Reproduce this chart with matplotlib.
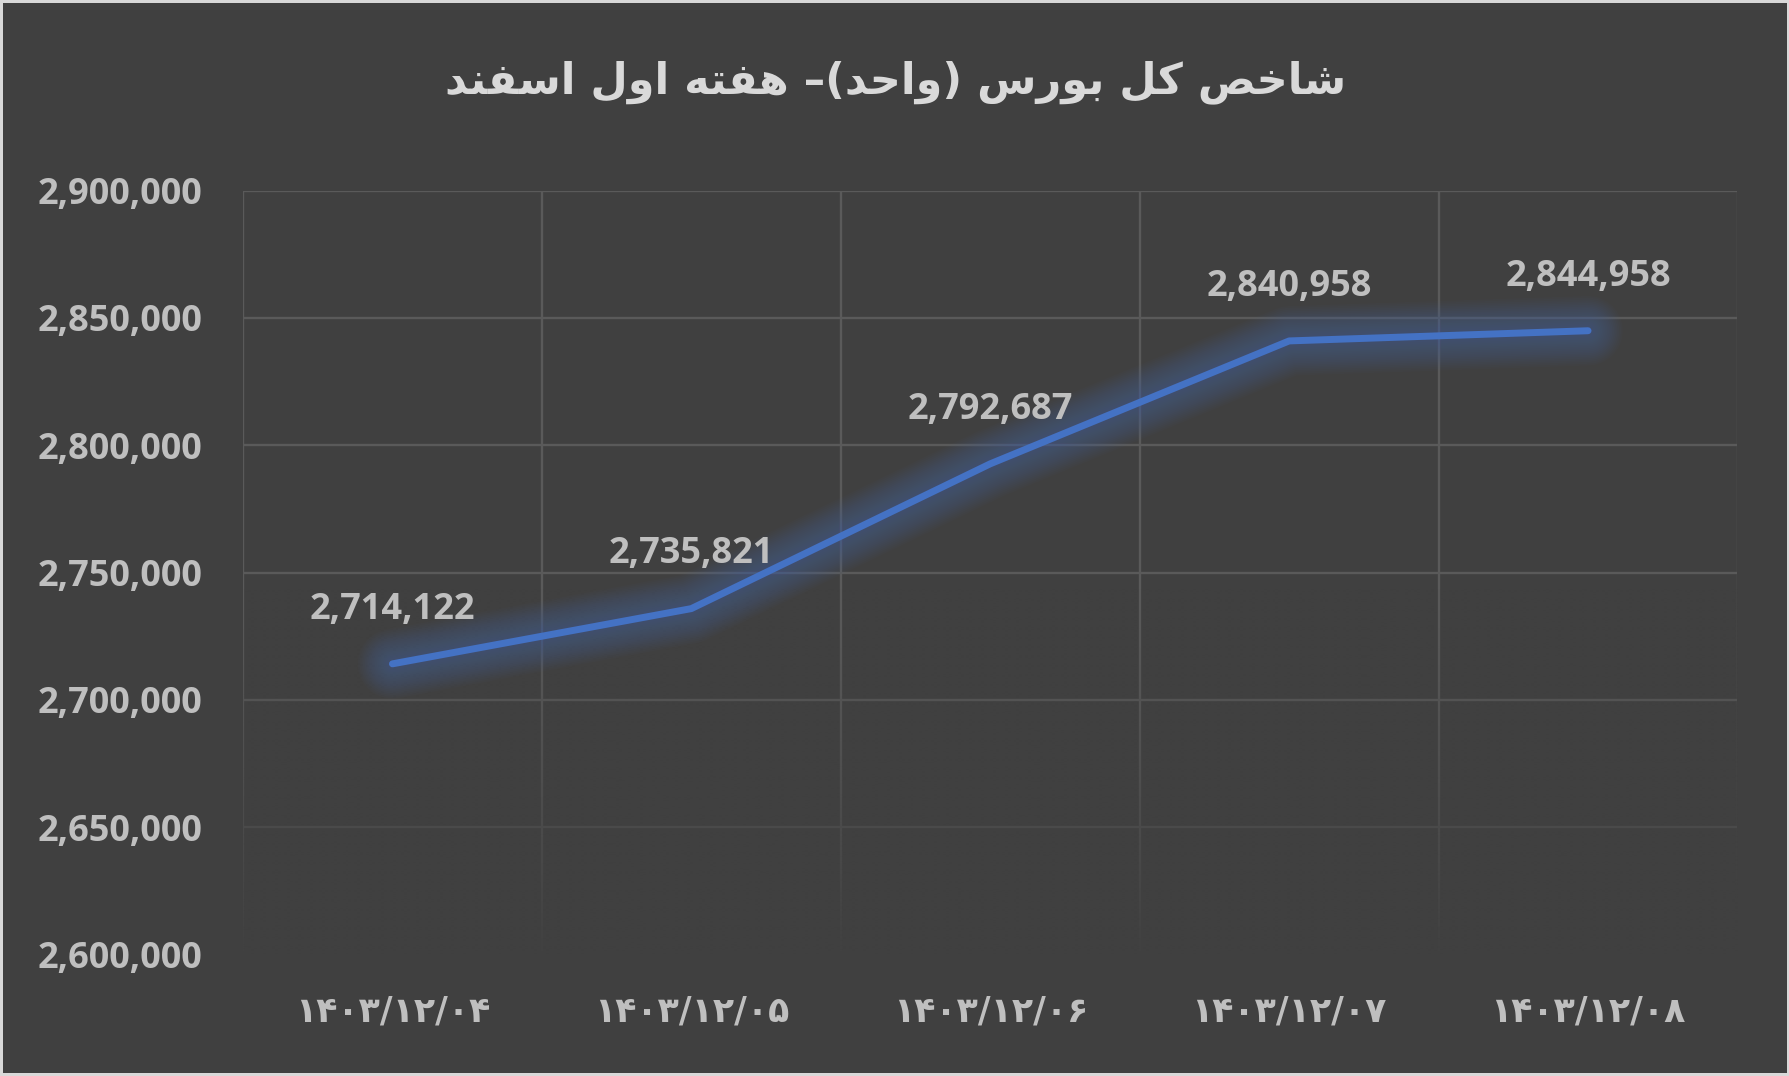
import numpy as np
import matplotlib
matplotlib.use("Agg")
import matplotlib.pyplot as plt
from matplotlib.patches import Rectangle

# ---------------- data ----------------
title_text = "شاخص کل بورس (واحد)– هفته اول اسفند"
categories = ["۱۴۰۳/۱۲/۰۴", "۱۴۰۳/۱۲/۰۵", "۱۴۰۳/۱۲/۰۶", "۱۴۰۳/۱۲/۰۷", "۱۴۰۳/۱۲/۰۸"]
values = [2714122, 2735821, 2792687, 2840958, 2844958]
y_ticks = [2600000, 2650000, 2700000, 2750000, 2800000, 2850000, 2900000]

# ---------------- simple Arabic shaping ----------------
FORMS = {
    'ا': ('\uFE8D', '\uFE8E', None, None),
    'ب': ('\uFE8F', '\uFE90', '\uFE91', '\uFE92'),
    'ت': ('\uFE95', '\uFE96', '\uFE97', '\uFE98'),
    'ح': ('\uFEA1', '\uFEA2', '\uFEA3', '\uFEA4'),
    'خ': ('\uFEA5', '\uFEA6', '\uFEA7', '\uFEA8'),
    'د': ('\uFEA9', '\uFEAA', None, None),
    'ر': ('\uFEAD', '\uFEAE', None, None),
    'س': ('\uFEB1', '\uFEB2', '\uFEB3', '\uFEB4'),
    'ش': ('\uFEB5', '\uFEB6', '\uFEB7', '\uFEB8'),
    'ص': ('\uFEB9', '\uFEBA', '\uFEBB', '\uFEBC'),
    'ف': ('\uFED1', '\uFED2', '\uFED3', '\uFED4'),
    'ل': ('\uFEDD', '\uFEDE', '\uFEDF', '\uFEE0'),
    'ن': ('\uFEE5', '\uFEE6', '\uFEE7', '\uFEE8'),
    'ه': ('\uFEE9', '\uFEEA', '\uFEEB', '\uFEEC'),
    'و': ('\uFEED', '\uFEEE', None, None),
    'ک': ('\uFB8E', '\uFB8F', '\uFB90', '\uFB91'),
    'ی': ('\uFBFC', '\uFBFD', '\uFBFE', '\uFBFF'),
}


def dual(c):
    return c in FORMS and FORMS[c][2] is not None


def shape_rtl(s):
    out = []
    n = len(s)
    for i, c in enumerate(s):
        if c not in FORMS:
            out.append(c)
            continue
        prev = s[i - 1] if i > 0 else ''
        nxt = s[i + 1] if i < n - 1 else ''
        jp = dual(prev)
        jn = dual(c) and nxt in FORMS
        iso, fin, ini, med = FORMS[c]
        if jp and jn:
            out.append(med)
        elif jp:
            out.append(fin)
        elif jn:
            out.append(ini)
        else:
            out.append(iso)
    vis = ''.join(reversed(out))
    mirror = {'(': ')', ')': '('}
    return ''.join(mirror.get(ch, ch) for ch in vis)


# ---------------- figure ----------------
W, H = 1790, 1076
fig = plt.figure(figsize=(W / 100, H / 100), dpi=100)
fig.patch.set_facecolor('#d9d9d9')
fig.add_artist(Rectangle((3 / W, 3 / H), 1 - 6 / W, 1 - 6 / H, transform=fig.transFigure,
                         facecolor='#404040', edgecolor='none', zorder=0))

ax = fig.add_axes([243 / W, 1 - 954.4 / H, (1737.5 - 243) / W, (954.4 - 190.6) / H])
ax.set_facecolor('none')
for sp in ax.spines.values():
    sp.set_visible(False)

x = np.arange(len(categories))
xlo, xhi = -0.5, len(categories) - 0.5
ylo, yhi = y_ticks[0], y_ticks[-1]

grid_c = '#5a5a5a'
ax.hlines(y_ticks, xlo, xhi, colors=grid_c, linewidth=1.7, zorder=1)
ax.vlines(np.arange(xlo, xhi + 0.01, 1.0), ylo, yhi, colors=grid_c, linewidth=1.7, zorder=1)

# fade of the grid towards the bottom
fade_top = 2745000
ramp = np.linspace(0, 1, 200) ** 1.2
rgba = np.zeros((200, 2, 4))
rgba[..., 0] = 0x40 / 255
rgba[..., 1] = 0x40 / 255
rgba[..., 2] = 0x40 / 255
rgba[..., 3] = ramp[:, None]
ax.imshow(rgba, extent=[xlo - 0.02, xhi + 0.02, ylo - 3000, fade_top], aspect='auto',
          zorder=1.5, interpolation='bilinear')

# glow
line_c = '#4472c4'
for w in np.linspace(50, 8, 18):
    ax.plot(x, values, color=line_c, linewidth=w, alpha=0.028,
            solid_capstyle='round', solid_joinstyle='round', zorder=2)
ax.plot(x, values, color=line_c, linewidth=5, solid_capstyle='round',
        solid_joinstyle='round', zorder=3)

num_font = 'Open Sans'
lbl_c = '#bfbfbf'
for xi, v in zip(x, values):
    ax.annotate(f"{v:,}", (xi, v), xytext=(0, 39), textcoords='offset points',
                ha='center', va='center', fontsize=26, fontweight='bold',
                family=num_font, color=lbl_c, zorder=4)

ax.set_xlim(xlo, xhi)
ax.set_ylim(ylo, yhi)
ax.set_yticks(y_ticks)
ax.set_yticklabels([f"{t:,}" for t in y_ticks], fontsize=26, fontweight='bold',
                   family=num_font, color=lbl_c)
ax.set_xticks(x)
ax.set_xticklabels(categories, fontsize=25, fontweight='bold',
                   family=['DejaVu Sans'], color=lbl_c)
ax.tick_params(axis='y', length=0, pad=29)
ax.tick_params(axis='x', length=0, pad=29)

fig.text(896 / W, 1 - 82 / H, shape_rtl(title_text), ha='center', va='center',
         fontsize=31, fontweight='bold', family=['DejaVu Sans'], color='#d9d9d9')

fig.savefig('out.png', dpi=100, facecolor=fig.get_facecolor())
